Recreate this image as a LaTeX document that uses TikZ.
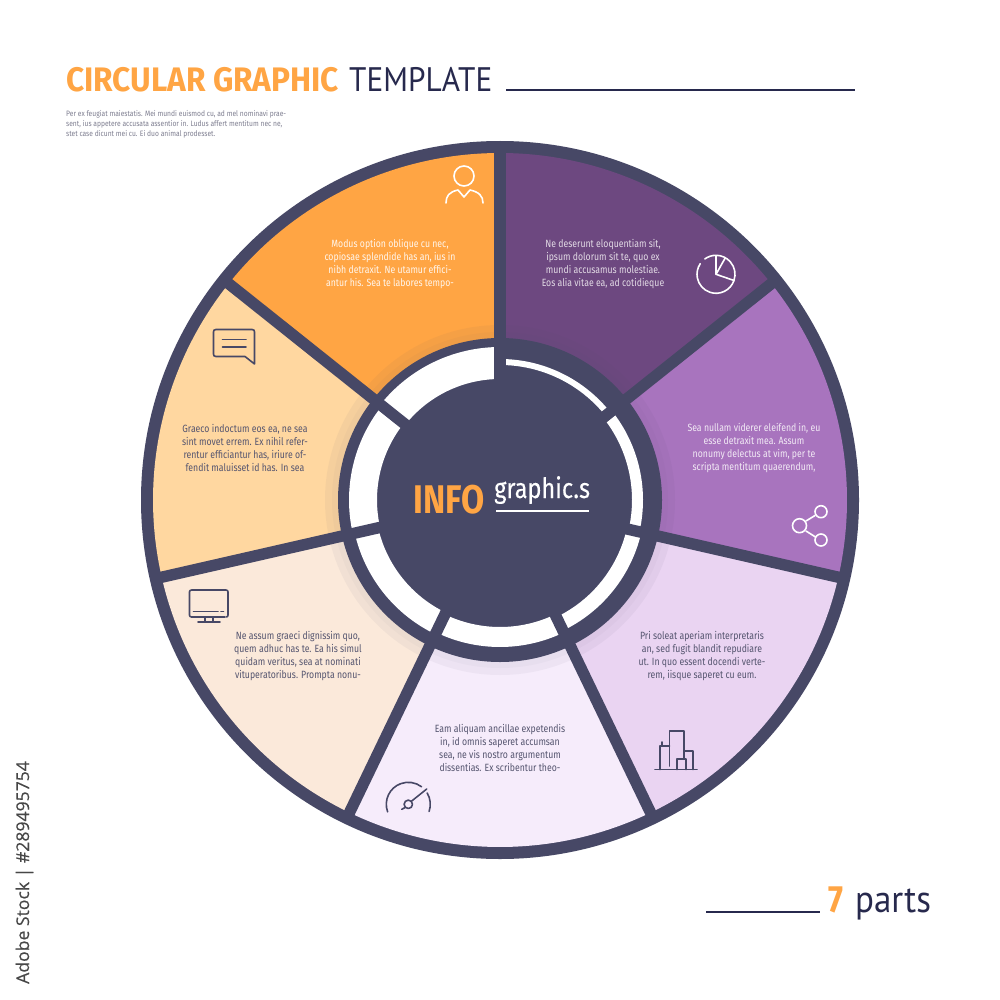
\documentclass[tikz,border=0pt]{standalone}
\usepackage{fontspec}
\setmainfont{Fira Sans}
\newfontfamily\bodyf[FakeStretch=0.83]{Fira Sans}
\newfontfamily\smallf[FakeStretch=0.86]{Fira Sans}
\newfontfamily\graphf[FakeStretch=0.84,FakeBold=0.15]{Fira Sans}
\newfontfamily\headb[FakeStretch=0.93]{Fira Sans}
\newfontfamily\infof[FakeStretch=0.84]{Fira Sans}
\newfontfamily\headl[FakeStretch=0.92]{PT Sans}
\newfontfamily\stockf[FakeBold=0.25]{Open Sans}
\definecolor{dk}{HTML}{474866}
\definecolor{navy}{HTML}{27294D}
\definecolor{org}{HTML}{FFA544}
\definecolor{sa}{HTML}{6D4880}
\definecolor{sb}{HTML}{A874BE}
\definecolor{sc}{HTML}{EAD4F2}
\definecolor{sd}{HTML}{F6ECFB}
\definecolor{se}{HTML}{FBE9DA}
\definecolor{sf}{HTML}{FFD7A0}
\definecolor{bodydk}{HTML}{55556F}
\definecolor{smallg}{HTML}{7E7E90}
\tikzset{
  bodytxt/.style={inner sep=0pt,align=center,font=\bodyf\fontsize{10.5}{12.7}\selectfont,text=bodydk},
  ic/.style={line width=1.6pt,draw=dk,line cap=round,line join=round},
  icw/.style={line width=1.6pt,draw=white,line cap=round,line join=round},
  rule/.style={line width=2pt,draw=navy},
}
\begin{document}
\begin{tikzpicture}[x=1pt,y=1pt,yscale=-1]
\fill[white] (0,0) rectangle (1000,1000);
\useasboundingbox (0,0) rectangle (1000,1000);
% title
\node[anchor=base west,inner sep=0,text=org,font=\headb\bfseries\fontsize{34}{34}\selectfont] (t1) at (66,92) {CIRCULAR GRAPHIC};
\node[anchor=base west,inner sep=0,text=navy,font=\headl\fontsize{34}{34}\selectfont] (t2) at (349,92) {TEMPLATE};
\draw[rule] (506,90.5) -- (855,90.5);
\node[anchor=north west,inner sep=0,align=left,text=smallg,font=\smallf\fontsize{7.8}{9.9}\selectfont] (t3) at (66,110.5) {Per ex feugiat maiestatis. Mei mundi euismod cu, ad mel nominavi prae-\\sent, ius appetere accusata assentior in. Ludus affert mentitum nec ne,\\stet case dicunt mei cu. Ei duo animal prodesset.};
% wheel
\begin{scope}[shift={(500,500)}]
\fill[dk] (0,0) circle[radius=359pt];
\foreach \k/\c in {0/sa,1/sb,2/sc,3/sd,4/se,5/sf,6/org}{
  \pgfmathsetmacro\a{-90+\k*360/7}
  \pgfmathsetmacro\b{-90+(\k+1)*360/7}
  \fill[\c] (0,0) -- (\a:347) arc[start angle=\a,end angle=\b,radius=347pt] -- cycle;
}
\fill[dk,opacity=0.05] (0,0) circle[radius=175pt];
\fill[dk,opacity=0.03] (0,0) circle[radius=168pt];
\fill[dk] (0,0) circle[radius=162pt];
\foreach \k/\ri/\ro in {0/135/141,1/132/143,2/130/145,3/127/147,4/125/149,5/123/151,6/121/153}{
  \pgfmathsetmacro\a{-90+\k*360/7}
  \pgfmathsetmacro\b{-90+(\k+1)*360/7}
  \fill[white] (\a:\ri) -- (\a:\ro) arc[start angle=\a,end angle=\b,radius=\ro pt] -- (\b:\ri) arc[start angle=\b,end angle=\a,radius=\ri pt] -- cycle;
}
\foreach \k in {0,...,6}{
  \pgfmathsetmacro\a{-90+\k*360/7}
  \draw[dk,line width=11.4pt] (\a:110) -- (\a:352);
}
\end{scope}
% center text
\node[anchor=base west,inner sep=0,text=org,font=\infof\bfseries\fontsize{40}{40}\selectfont] (info) at (413,513) {INFO};
\node[anchor=base west,inner sep=0,text=white,font=\graphf\fontsize{28}{28}\selectfont] (gr) at (494,498) {graphic.s};
\draw[white,line width=1.5pt] (496,511) -- (589,511);
% segment texts
\node[bodytxt,text=sa!20!white] (s1) at (603,264) {Ne deserunt eloquentiam sit,\\ipsum dolorum sit te, quo ex\\mundi accusamus molestiae.\\Eos alia vitae ea, ad cotidieque};
\node[bodytxt,text=sb!15!white] (s2) at (754,448) {Sea nullam viderer eleifend in, eu\\esse detraxit mea. Assum\\nonumy delectus at vim, per te\\scripta mentitum quaerendum,};
\node[bodytxt] (s3) at (702,656) {Pri soleat aperiam interpretaris\\an, sed fugit blandit repudiare\\ut. In quo essent docendi verte-\\rem, iisque saperet cu eum.};
\node[bodytxt] (s4) at (500,748) {Eam aliquam ancillae expetendis\\in, id omnis saperet accumsan\\sea, ne vis nostro argumentum\\dissentias. Ex scribentur theo-};
\node[bodytxt] (s5) at (298,656) {Ne assum graeci dignissim quo,\\quem adhuc has te. Ea his simul\\quidam veritus, sea at nominati\\vituperatoribus. Prompta nonu-};
\node[bodytxt] (s6) at (245,448) {Graeco indoctum eos ea, ne sea\\sint movet errem. Ex nihil refer-\\rentur efficiantur has, iriure of-\\fendit maluisset id has. In sea};
\node[bodytxt,text=org!10!white] (s7) at (390,264) {Modus option oblique cu nec,\\copiosae splendide has an, ius in\\nibh detraxit. Ne utamur effici-\\antur his. Sea te labores tempo-};
% person icon
\draw[icw] (464,176) circle[radius=10pt];
\draw[icw] (446,203) .. controls (446,196) and (449,192) .. (458,190) -- (464,197) -- (470,190) .. controls (479,192) and (483,196) .. (483,203);
% pie icon
\begin{scope}[shift={(716,274.3)}]
\draw[icw] (19:19) arc[start angle=19,end angle=214,radius=19pt];
\draw[icw] (234:19) arc[start angle=234,end angle=270,radius=19pt] -- (0,0) -- (19:19) arc[start angle=19,end angle=-90,radius=19pt];
\draw[icw] (0,0) -- (-60.6:19);
\end{scope}
% share icon
\draw[icw] (799.5,525.7) circle[radius=7pt];
\draw[icw] (821,511.7) circle[radius=6pt];
\draw[icw] (821,540) circle[radius=6pt];
\draw[icw] (806,521) -- (815,515.5);
\draw[icw] (806,531) -- (815.5,537);
% city icon
\begin{scope}[ic]
\draw (655,769.5) -- (697,769.5);
\draw (660,769.5) -- (660,746) -- (669.5,746);
\draw (662,746) -- (662,742);
\draw (669.5,766) -- (669.5,731) -- (684,731) -- (684,758.5);
\draw (684,751) -- (693,751) -- (693,769.5);
\draw (677,769.5) -- (677,759) -- (686,759) -- (686,769.5);
\end{scope}
% gauge icon
\begin{scope}[ic,shift={(408.3,804.3)}]
\draw (160:22) arc[start angle=160,end angle=307,radius=22pt];
\draw (329:22) arc[start angle=329,end angle=379,radius=22pt];
\draw (0,0) circle[radius=4.2pt];
\draw (3.4,-3.3) -- (18.4,-15.3);
\draw (-3.3,3.3) -- (-6.6,5);
\end{scope}
% monitor icon
\begin{scope}[ic]
\draw (225,617) -- (191.5,617) .. controls (190,617) and (189.5,616) .. (189.5,615) -- (189.5,592) .. controls (189.5,591) and (190,590) .. (191.5,590) -- (226,590) .. controls (227.5,590) and (228,591) .. (228,592) -- (228,615) .. controls (228,616) and (227.5,617) .. (226.5,617);
\draw (193.5,611.5) -- (218,611.5);
\draw (221,611.5) -- (223.5,611.5);
\draw (205,617) -- (205,622);
\draw (213,617) -- (213,622);
\draw (198,622) -- (220,622);
\end{scope}
% chat icon
\begin{scope}[ic]
\draw (254.5,364) -- (245,356.5) -- (216,356.5) .. controls (214,356.5) and (213.5,355.5) .. (213.5,354) -- (213.5,332) .. controls (213.5,330.5) and (214,329.5) .. (216,329.5) -- (252,329.5) .. controls (254,329.5) and (254.5,330.5) .. (254.5,332) -- cycle;
\draw (222.5,339.5) -- (246,339.5);
\draw (222.5,347) -- (246,347);
\end{scope}
% parts
\draw[rule] (706,911.5) -- (820,911.5);
\node[anchor=base west,inner sep=0,text=org,font=\infof\bfseries\fontsize{38}{38}\selectfont] (n7) at (828,912) {7};
\node[anchor=base west,inner sep=0,text=navy,font=\headl\fontsize{38}{38}\selectfont] (np) at (855,912) {parts};
% stock id
\node[anchor=base west,rotate=90,inner sep=0,text=black!72,font=\stockf\fontsize{17.6}{17.6}\selectfont] (id) at (29,984) {Adobe Stock | \#289495754};
\end{tikzpicture}
\end{document}
